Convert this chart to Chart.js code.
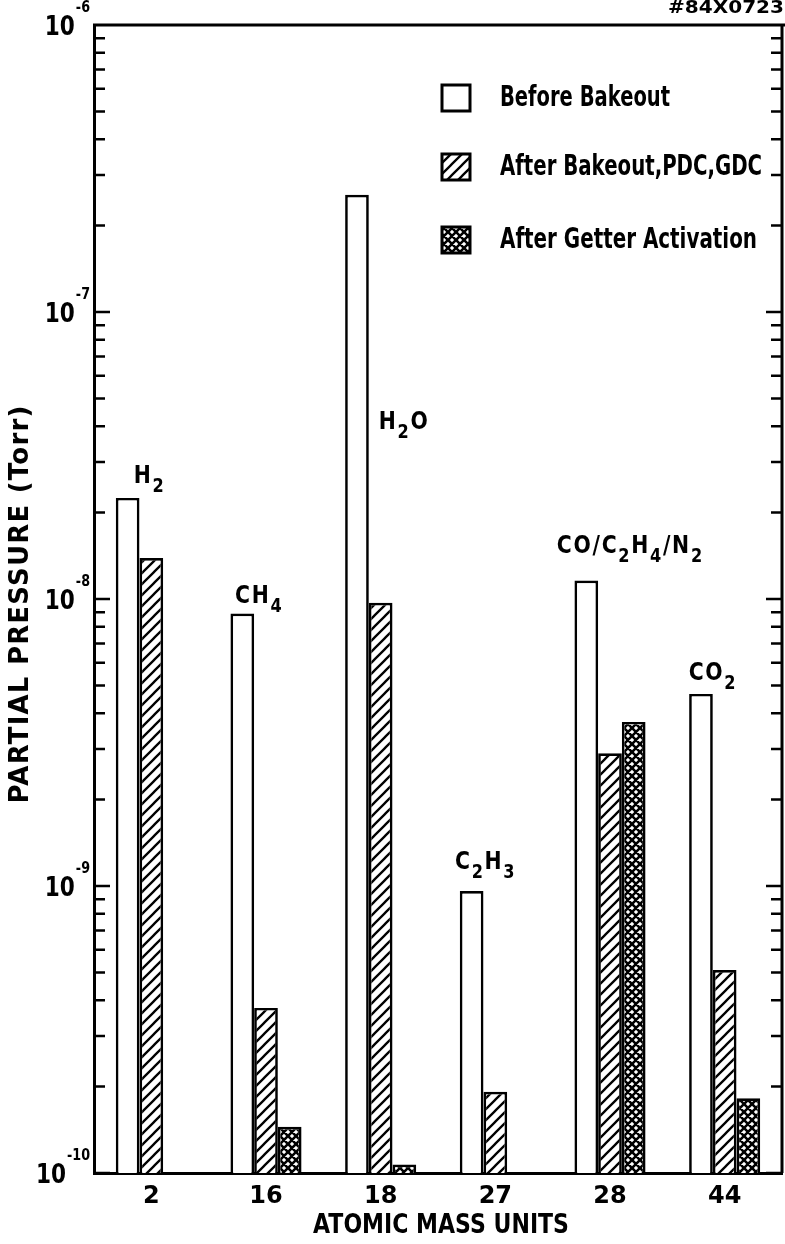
<!DOCTYPE html>
<html lang="en">
<head>
<meta charset="UTF-8">
<title>Partial pressures by mass</title>
<script src="https://cdn.jsdelivr.net/npm/chart.js"></script>
<style>
  html, body { margin: 0; padding: 0; background: #fff; }
</style>
</head>
<body>
<canvas id="chart" width="785" height="1244"></canvas>
<script>
// x axis: atomic mass units
const masses = ['2', '16', '18', '27', '28', '44'];
// gas over each group ("_" marks a subscript digit)
const gases = ['H_2', 'CH_4', 'H_2O', 'C_2H_3', 'CO/C_2H_4/N_2', 'CO_2'];
// partial pressures, Torr
const beforeBakeout = [2.25e-8, 8.9e-9, 2.56e-7, 9.6e-10, 1.16e-8, 4.67e-9];
const afterBakeout = [1.39e-8, 3.76e-10, 9.7e-9, 1.92e-10, 2.9e-9, 5.1e-10];
const afterGetter = [null, 1.45e-10, 1.07e-10, null, 3.73e-9, 1.82e-10];
const seriesNames = ['Before Bakeout', 'After Bakeout,PDC,GDC', 'After Getter Activation'];
// y axis decades (powers of ten)
const decades = [-10, -9, -8, -7, -6];

const FONT = "'DejaVu Sans', sans-serif";

function hatchPattern() {
    const c = document.createElement('canvas');
    c.width = c.height = 11;
    const g = c.getContext('2d');
    g.fillStyle = '#fff';
    g.fillRect(0, 0, 11, 11);
    g.strokeStyle = '#000';
    g.lineWidth = 2.3;
    g.beginPath();
    g.moveTo(-2, 13); g.lineTo(13, -2);
    g.moveTo(-2, 2); g.lineTo(2, -2);
    g.moveTo(9, 13); g.lineTo(13, 9);
    g.stroke();
    return g.createPattern(c, 'repeat');
}

function crossPattern() {
    const c = document.createElement('canvas');
    c.width = c.height = 8;
    const g = c.getContext('2d');
    g.fillStyle = '#fff';
    g.fillRect(0, 0, 8, 8);
    g.strokeStyle = '#000';
    g.lineWidth = 2.6;
    g.beginPath();
    g.moveTo(-2, 10); g.lineTo(10, -2);
    g.moveTo(-2, 2); g.lineTo(2, -2);
    g.moveTo(6, 10); g.lineTo(10, 6);
    g.moveTo(-2, -2); g.lineTo(10, 10);
    g.moveTo(-2, 6); g.lineTo(2, 10);
    g.moveTo(6, -2); g.lineTo(10, 2);
    g.stroke();
    return g.createPattern(c, 'repeat');
}

// condensed text: squeeze horizontally by sx
function squeezeText(g, text, x, y, sx) {
    g.save();
    g.translate(x, y);
    g.scale(sx, 1);
    g.fillText(text, 0, 0);
    g.restore();
}

// text with subscripts, "_" before a character makes it a subscript
function drawChem(g, text, x, y, size, align) {
    const sx = 0.85;
    const parts = [];
    for (let i = 0; i < text.length; i++) {
        if (text[i] === '_') parts.push({ t: text[++i], sub: true });
        else parts.push({ t: text[i], sub: false });
    }
    const big = `bold ${size}px ${FONT}`;
    const small = `bold ${Math.round(size * 0.8)}px ${FONT}`;
    let w = 0;
    parts.forEach(p => {
        g.font = p.sub ? small : big;
        p.w = (g.measureText(p.t).width + 2) * sx;
        w += p.w;
    });
    let cx = align === 'center' ? x - w / 2 : x;
    g.textAlign = 'left';
    g.textBaseline = 'alphabetic';
    parts.forEach(p => {
        g.font = p.sub ? small : big;
        squeezeText(g, p.t, cx, p.sub ? y + size * 0.38 : y, sx);
        cx += p.w;
    });
}

// label placement next to the "before" bar of each group
const labelDx = [22, 17, 0, 14, 44, 12];
const labelLift = [15, 11, 0, 22, 28, 14];

const decorations = {
    id: 'decorations',
    afterDatasetsDraw(chart) {
        const g = chart.ctx;
        const area = chart.chartArea;
        const y = chart.scales.y;
        g.save();
        g.strokeStyle = '#000';
        g.fillStyle = '#000';

        // frame top and right
        g.lineWidth = 3;
        g.beginPath();
        g.moveTo(area.left - 1, area.top);
        g.lineTo(chart.width, area.top);
        g.moveTo(area.right, area.top);
        g.lineTo(area.right, area.bottom);
        g.stroke();

        // inward tick marks on both sides
        g.lineWidth = 2.5;
        decades.forEach((e, i) => {
            if (i === decades.length - 1) return;
            for (let k = 1; k <= 9; k++) {
                const py = y.getPixelForValue(k * Math.pow(10, e));
                const len = k === 1 ? 16 : 11;
                g.beginPath();
                g.moveTo(area.left, py); g.lineTo(area.left + len, py);
                g.moveTo(area.right, py); g.lineTo(area.right - len, py);
                g.stroke();
            }
        });

        // decade labels 10^n
        decades.forEach(e => {
            const py = y.getPixelForValue(Math.pow(10, e));
            const sup = String(e);
            g.textAlign = 'left';
            g.textBaseline = 'alphabetic';
            g.font = `bold 15px ${FONT}`;
            const sw = g.measureText(sup).width * 0.85;
            g.font = `bold 27px ${FONT}`;
            const tw = g.measureText('10').width * 0.8;
            const right = area.left - 4;
            squeezeText(g, '10', right - sw - tw - 1, py + 10, 0.8);
            g.font = `bold 15px ${FONT}`;
            squeezeText(g, sup, right - sw, py - 13, 0.85);
        });

        // gas labels
        const meta = chart.getDatasetMeta(0);
        meta.data.forEach((bar, i) => {
            if (i === 2) {
                drawChem(g, gases[i], bar.x + bar.width / 2 + 10, y.getPixelForValue(3.9e-8), 24, 'left');
            } else {
                drawChem(g, gases[i], bar.x + labelDx[i], bar.y - labelLift[i], 24, 'center');
            }
        });

        // y axis title, letter spaced
        g.save();
        g.translate(21, (area.top + area.bottom) / 2 + 5);
        g.rotate(-Math.PI / 2);
        g.font = `bold 26px ${FONT}`;
        g.letterSpacing = '1.2px';
        g.textAlign = 'center';
        g.textBaseline = 'middle';
        g.fillText('PARTIAL PRESSURE (Torr)', 0, 0);
        g.restore();

        // x axis title
        g.font = `bold 27px ${FONT}`;
        g.textAlign = 'left';
        g.textBaseline = 'middle';
        const xt = 'ATOMIC MASS UNITS';
        const xw = g.measureText(xt).width;
        squeezeText(g, xt, 313, 1226, 256 / xw);

        // legend inside the plot
        const rows = [98, 167, 240];
        chart.data.datasets.forEach((ds, i) => {
            const bx = 442, by = rows[i] - 13, s = 28;
            g.fillStyle = ds.backgroundColor;
            g.fillRect(bx, by, s, s - 2);
            g.lineWidth = 3;
            g.strokeStyle = '#000';
            g.strokeRect(bx, by, s, s - 2);
            g.fillStyle = '#000';
            g.font = `bold 28px ${FONT}`;
            g.textAlign = 'left';
            g.textBaseline = 'middle';
            const w = g.measureText(ds.label).width;
            const target = [170, 262, 257][i];
            squeezeText(g, ds.label, 500, rows[i] + 1, target / w);
        });

        // figure number
        g.font = `bold 17px ${FONT}`;
        g.textAlign = 'left';
        g.textBaseline = 'middle';
        const fw = g.measureText('#84X0723').width;
        squeezeText(g, '#84X0723', 668, 9, 116 / fw);
        g.restore();
    }
};

const barStyle = {
    borderColor: '#000',
    borderWidth: 2.7,
    borderSkipped: 'start',
    categoryPercentage: 0.62,
    barPercentage: 1.0
};

const ctx = document.getElementById('chart').getContext('2d');
new Chart(ctx, {
    type: 'bar',
    data: {
        labels: masses,
        datasets: [
            Object.assign({ label: seriesNames[0], data: beforeBakeout, backgroundColor: '#fff' }, barStyle),
            Object.assign({ label: seriesNames[1], data: afterBakeout, backgroundColor: hatchPattern() }, barStyle),
            Object.assign({ label: seriesNames[2], data: afterGetter, backgroundColor: crossPattern() }, barStyle)
        ]
    },
    options: {
        responsive: false,
        animation: false,
        devicePixelRatio: 1,
        layout: { padding: { top: 25, right: 3, left: 0, bottom: 0 } },
        plugins: {
            legend: { display: false },
            tooltip: { enabled: false }
        },
        scales: {
            x: {
                grid: { display: false, drawTicks: false },
                border: { display: true, color: '#000', width: 3 },
                ticks: { color: '#000', padding: 9, font: { family: FONT, size: 24, weight: 'bold' } },
                afterFit(s) { s.height = 71; }
            },
            y: {
                type: 'logarithmic',
                min: 1e-10,
                max: 1e-6,
                grid: { display: false, drawTicks: false },
                border: { display: true, color: '#000', width: 3 },
                ticks: { display: false },
                afterFit(s) { s.width = 94; }
            }
        }
    },
    plugins: [decorations]
});
</script>
</body>
</html>
